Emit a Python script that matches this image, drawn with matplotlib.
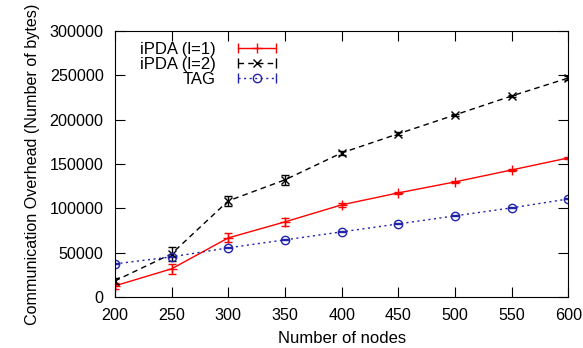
import matplotlib
matplotlib.use("Agg")
import matplotlib.pyplot as plt
from matplotlib.lines import Line2D
from matplotlib.legend_handler import HandlerLine2D, HandlerTuple
import numpy as np

plt.rcParams["font.family"] = ["Liberation Sans", "DejaVu Sans"]
plt.rcParams["font.size"] = 12

nodes = [200, 250, 300, 350, 400, 450, 500, 550, 600]
ipda1 = [12400, 31600, 66500, 84600, 103800, 117300, 129700, 143200, 156800]
ipda1_err = [3000, 6000, 5000, 4500, 2000, 1500, 1500, 1500, 1500]
ipda2 = [18000, 48500, 108300, 132000, 162400, 184000, 205300, 226700, 247000]
ipda2_err = [3000, 8000, 6000, 6000, 2000, 1500, 1500, 1500, 2000]
tag = [37200, 45100, 55300, 64300, 73300, 82300, 91400, 100400, 110500]
tag_err = [500, 500, 500, 500, 500, 500, 500, 500, 500]

labels = ["iPDA (l=1)", "iPDA (l=2)", "TAG"]
colors = ["#ff0000", "#000000", "#2222aa"]
styles = ["-", (0, (4, 3)), (0, (1.5, 2.5))]
markers = ["+", "x", "o"]

fig = plt.figure(figsize=(5.83, 3.48), dpi=100)
ax = fig.add_axes([0.197, 0.147, 0.778, 0.764])

for y, e, c, ls, m in zip([ipda1, ipda2, tag], [ipda1_err, ipda2_err, tag_err],
                          colors, styles, markers):
    ax.errorbar(nodes, y, yerr=e, color=c, lw=1, ls=ls, marker=m,
                mfc="none", ms=7 if m == "+" else 6, capsize=3, elinewidth=1)

ax.set_xlim(200, 600)
ax.set_ylim(0, 300000)
ax.set_xticks(np.arange(200, 601, 50))
ax.set_yticks(np.arange(0, 300001, 50000))
ax.tick_params(direction="in", top=True, right=True, length=7, pad=8,
               labelsize=11.6)
ax.set_xlabel("Number of nodes", labelpad=6)
ax.set_ylabel("Communication Overhead (Number of bytes)", fontsize=11.6, labelpad=7)

# gnuplot-style key: line with end caps and point in the middle
handles = []
hmap = {}
for c, ls, m in zip(colors, styles, markers):
    caps = Line2D([], [], color=c, lw=1, ls=ls, marker="|", ms=7)
    pt = Line2D([], [], color="none", marker=m, mec=c, mfc="none",
                ms=7 if m == "+" else 6)
    hmap[caps] = HandlerLine2D(numpoints=2)
    hmap[pt] = HandlerLine2D(numpoints=1)
    handles.append((caps, pt))
hmap[tuple] = HandlerTuple(ndivide=1, pad=0)

leg = ax.legend(handles, labels, handler_map=hmap, loc="upper right",
                bbox_to_anchor=(0.366, 0.958),
                frameon=False, markerfirst=False, handlelength=2.9,
                handletextpad=1.0, labelspacing=0.0, borderpad=0,
                borderaxespad=0)
for t in leg.get_texts():
    t.set_ha("right")

fig.savefig("out.png", dpi=100)
